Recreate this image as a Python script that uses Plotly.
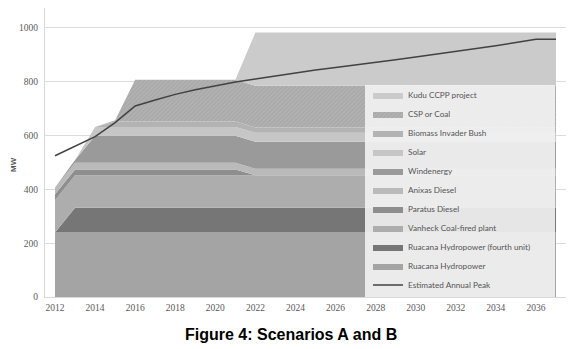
import plotly.graph_objects as go

years = [2012, 2013, 2014, 2015, 2016, 2017, 2018, 2019, 2020, 2021, 2022, 2023, 2024,
         2025, 2026, 2027, 2028, 2029, 2030, 2031, 2032, 2033, 2034, 2035, 2036, 2037]

ruacana = [240, 240, 240, 240, 240, 240, 240, 240, 240, 240, 240, 240, 240,
           240, 240, 240, 240, 240, 240, 240, 240, 240, 240, 240, 240, 240]
ruacana_4th = [0, 92, 92, 92, 92, 92, 92, 92, 92, 92, 92, 92, 92,
               92, 92, 92, 92, 92, 92, 92, 92, 92, 92, 92, 92, 92]
vanheck = [120, 120, 120, 120, 120, 120, 120, 120, 120, 120, 120, 120, 120,
           120, 120, 120, 120, 120, 120, 120, 120, 120, 120, 120, 120, 120]
paratus = [22, 22, 22, 22, 22, 22, 22, 22, 22, 22, 0, 0, 0,
           0, 0, 0, 0, 0, 0, 0, 0, 0, 0, 0, 0, 0]
anixas = [25, 25, 25, 25, 25, 25, 25, 25, 25, 25, 25, 25, 25,
          25, 25, 25, 25, 25, 25, 25, 25, 25, 25, 25, 25, 25]
wind = [0, 10, 100, 100, 100, 100, 100, 100, 100, 100, 100, 100, 100,
        100, 100, 100, 100, 100, 100, 100, 100, 100, 100, 100, 100, 100]
solar = [0, 0, 33, 33, 33, 33, 33, 33, 33, 33, 33, 33, 33,
         33, 33, 33, 33, 33, 33, 33, 33, 33, 33, 33, 33, 33]
biomass = [0, 0, 0, 20, 20, 20, 20, 20, 20, 20, 20, 20, 20,
           20, 20, 20, 20, 20, 20, 20, 20, 20, 20, 20, 20, 20]
csp = [0, 0, 0, 5, 155, 155, 155, 155, 155, 155, 155, 155, 155,
       155, 155, 155, 155, 155, 155, 155, 155, 155, 155, 155, 155, 155]
kudu = [0, 0, 0, 0, 0, 0, 0, 0, 0, 0, 198, 198, 198,
        198, 198, 198, 198, 198, 198, 198, 198, 198, 198, 198, 198, 198]
peak = [525, 560, 596, 648, 710, 732, 753, 770, 785, 799, 810, 822, 834,
        844, 853, 862, 872, 882, 892, 902, 912, 922, 934, 946, 958, 958]

x_ticks = [2012, 2014, 2016, 2018, 2020, 2022, 2024, 2026, 2028, 2030, 2032, 2034, 2036]
y_ticks = [0, 200, 400, 600, 800, 1000]

series = [
    ("Ruacana Hydropower", ruacana, "#a4a4a4", 10),
    ("Ruacana Hydropower (fourth unit)", ruacana_4th, "#767676", 9),
    ("Vanheck Coal-fired plant", vanheck, "#adadad", 8),
    ("Paratus Diesel", paratus, "#8e8e8e", 7),
    ("Anixas Diesel", anixas, "#bababa", 6),
    ("Windenergy", wind, "#9a9a9a", 5),
    ("Solar", solar, "#c6c6c6", 4),
    ("Biomass Invader Bush", biomass, "#b3b3b3", 3),
    ("CSP or Coal", csp, "#a9a9a9", 2),
    ("Kudu CCPP project", kudu, "#cbcbcb", 1),
]

# page has an 8px body margin; geometry below is in figure pixels
W, H = 567, 341
ML, MR, MT, MB = 37, 9, 0, 52
PW = W - ML - MR   # 521
PH = H - MT - MB   # 289


def px(page_x):
    return (page_x - 8 - ML) / PW


def py(page_y):
    return (MT + PH - (page_y - 8)) / PH


fig = go.Figure()
for name, vals, col, rank in series:
    kw = {}
    if name == "CSP or Coal":
        kw["fillpattern"] = dict(shape="/", size=3, solidity=0.35,
                                 fgcolor="#c2c2c2", bgcolor=col)
    fig.add_trace(go.Scatter(
        x=years, y=vals, name=name, mode="lines", stackgroup="one",
        line=dict(width=0, color=col), fillcolor=col, legendrank=rank,
        hoverinfo="skip", **kw))

fig.add_trace(go.Scatter(
    x=years, y=peak, name="Estimated Annual Peak", mode="lines",
    line=dict(color="#424242", width=1.5), legendrank=11, hoverinfo="skip"))

# legend background box
fig.add_shape(type="rect", xref="paper", yref="paper",
              x0=px(365), x1=px(555), y0=0, y1=py(85),
              fillcolor="rgba(243,243,243,0.9)", line=dict(width=0), layer="above")

fig.add_annotation(text="<b>Figure 4: Scenarios A and B</b>", xref="paper", yref="paper",
                   x=px(290.5), y=py(334), showarrow=False,
                   xanchor="center", yanchor="middle",
                   font=dict(family="Liberation Sans, Arial, sans-serif", size=16, color="#000000"))
fig.add_annotation(text="<b>MW</b>", xref="paper", yref="paper",
                   x=px(13), y=py(165), showarrow=False, textangle=-90,
                   xanchor="center", yanchor="middle",
                   font=dict(family="Liberation Sans, Arial, sans-serif", size=8, color="#555555"))

fig.update_layout(
    width=W, height=H,
    margin=dict(l=ML, r=MR, t=MT, b=MB),
    paper_bgcolor="#ffffff", plot_bgcolor="#ffffff",
    showlegend=True,
    legend=dict(x=px(368), xanchor="left", y=py(80.5), yanchor="top", traceorder="normal",
                bgcolor="rgba(0,0,0,0)", borderwidth=0, itemwidth=30,
                font=dict(family="Lato, Open Sans, sans-serif", size=8.2, color="#555555")),
    xaxis=dict(range=[2011.5, 2037.5], tickvals=x_ticks, ticktext=[str(t) for t in x_ticks],
               showgrid=False, zeroline=False, showline=True, linecolor="#d9d9d9", linewidth=1,
               ticks="", ticklabelstandoff=2,
               tickfont=dict(family="Liberation Serif, serif", size=9.5, color="#595959")),
    yaxis=dict(range=[0, 1074], tickvals=y_ticks, showgrid=True, gridcolor="#dcdcdc", gridwidth=1,
               zeroline=False, showline=True, linecolor="#d9d9d9", linewidth=1, ticks="",
               ticklabelstandoff=4,
               tickfont=dict(family="Liberation Serif, serif", size=9.5, color="#595959")),
)

fig.write_html("out.html")
